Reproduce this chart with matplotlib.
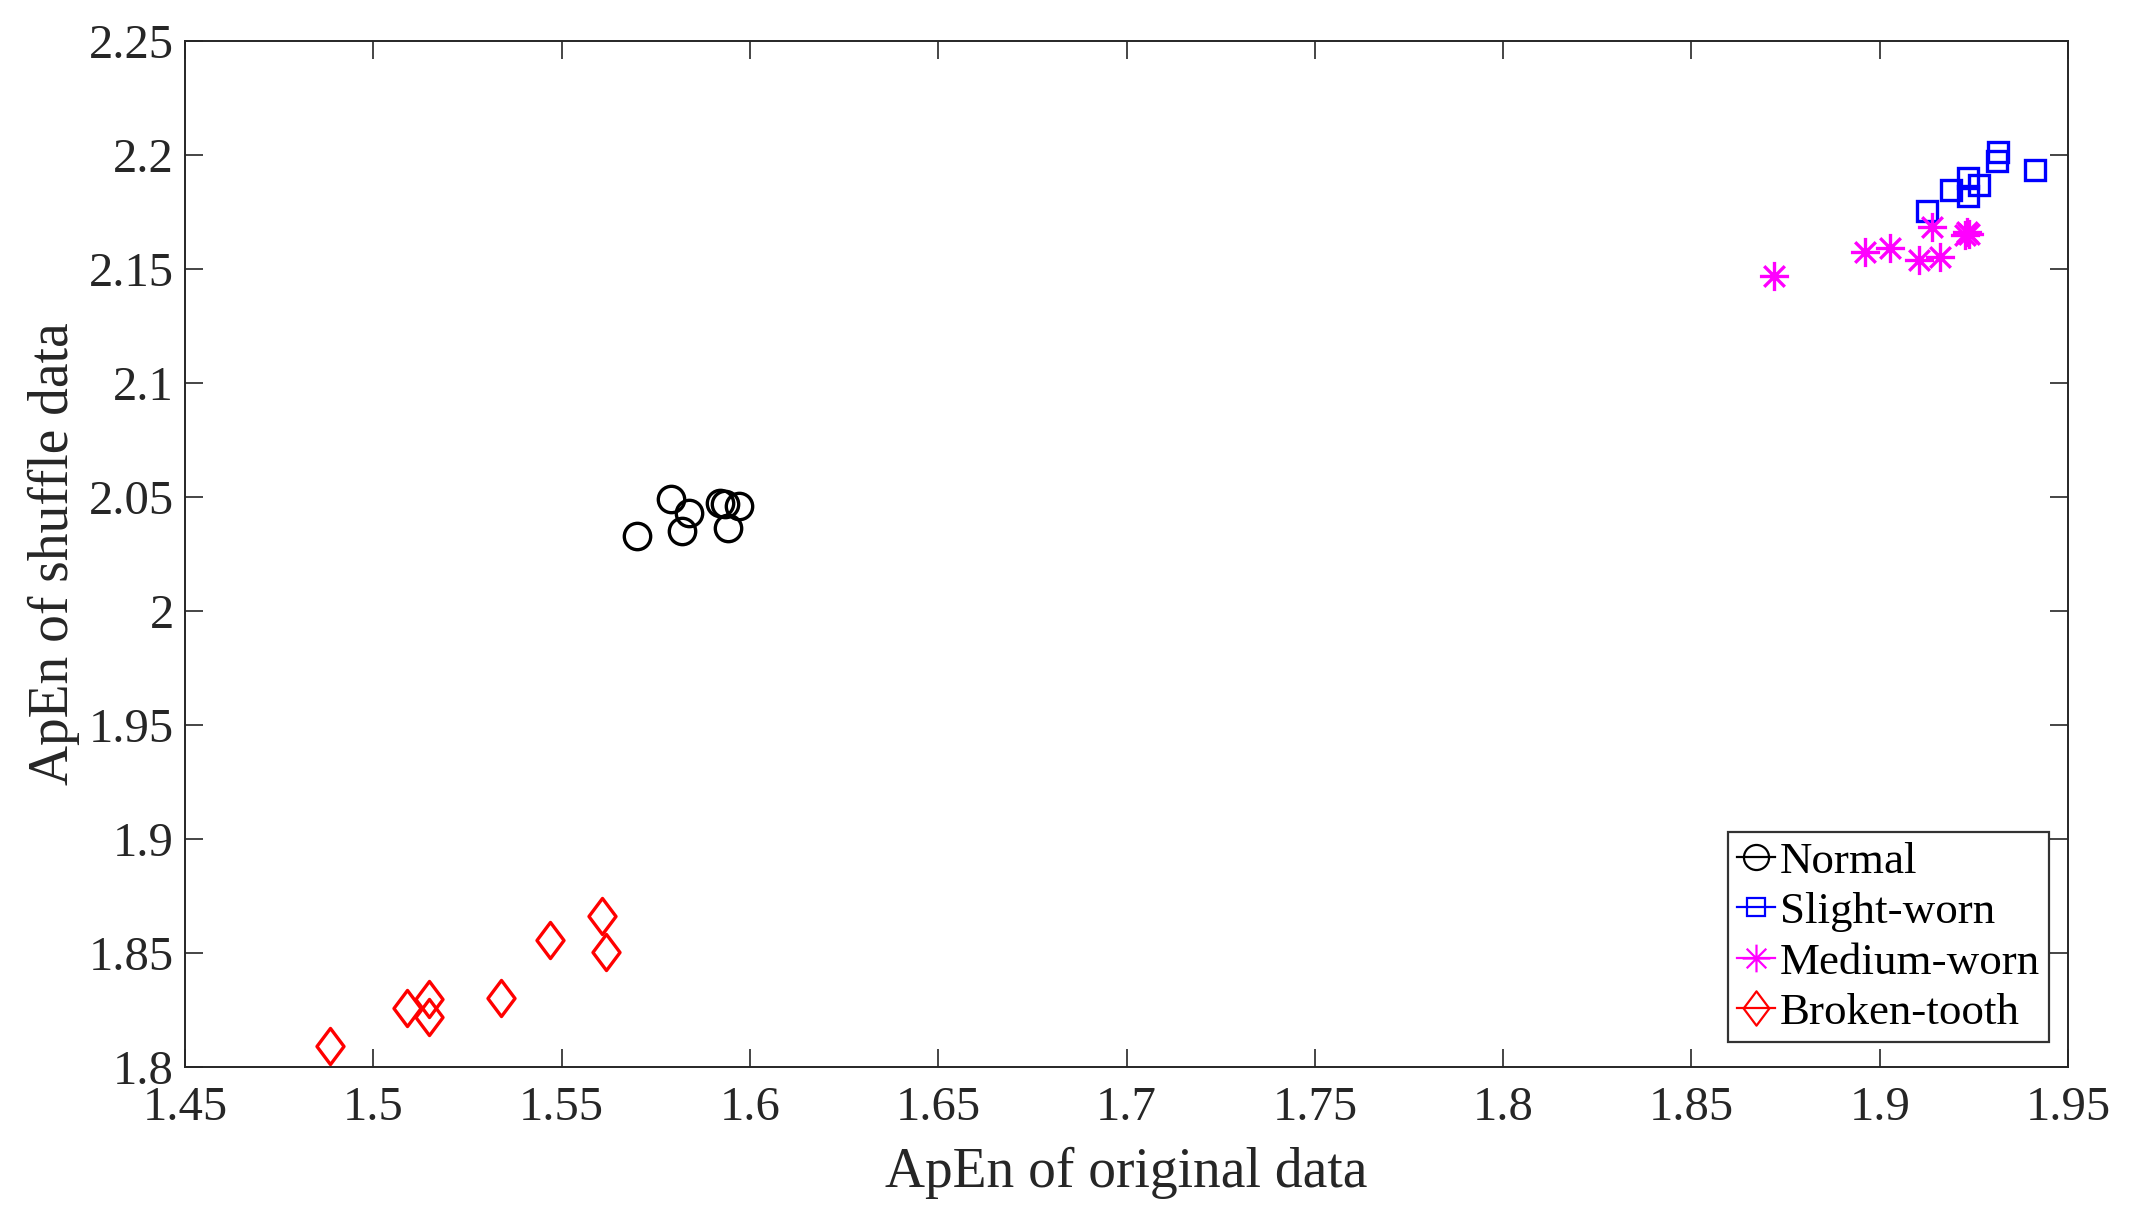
import matplotlib
matplotlib.use("Agg")
import matplotlib.pyplot as plt
import numpy as np
from matplotlib.path import Path
from matplotlib.lines import Line2D
from matplotlib.ticker import FuncFormatter

plt.rcParams['font.family'] = ['Liberation Serif', 'DejaVu Serif']

# values
normal_x = [1.5699, 1.5790, 1.5839, 1.5820, 1.5920, 1.5935, 1.5970, 1.5943]
normal_y = [2.0329, 2.0490, 2.0431, 2.0350, 2.0475, 2.0470, 2.0460, 2.0365]

slight_x = [1.9125, 1.9190, 1.9234, 1.9235, 1.9264, 1.9313, 1.9310, 1.9411]
slight_y = [2.1754, 2.1847, 2.1900, 2.1820, 2.1868, 2.2014, 2.1975, 2.1934]

medium_x = [1.8720, 1.8961, 1.9026, 1.9104, 1.9160, 1.9138, 1.9231, 1.9236, 1.9226]
medium_y = [2.1471, 2.1576, 2.1592, 2.1540, 2.1553, 2.1686, 2.1664, 2.1655, 2.1648]

broken_x = [1.4885, 1.5090, 1.5147, 1.5147, 1.5338, 1.5469, 1.5607, 1.5619]
broken_y = [1.8093, 1.8257, 1.8298, 1.8220, 1.8301, 1.8557, 1.8662, 1.8504]

labels = ["Normal", "Slight-worn", "Medium-worn", "Broken-tooth"]

# matlab-like markers
ang = np.deg2rad(np.arange(0, 360, 45))
star_verts, star_codes = [], []
for a in ang:
    star_verts += [(0, 0), (np.cos(a), np.sin(a))]
    star_codes += [Path.MOVETO, Path.LINETO]
star = Path(star_verts, star_codes)
diamond = Path([(0, 1), (0.75, 0), (0, -1), (-0.75, 0), (0, 1)],
               [Path.MOVETO, Path.LINETO, Path.LINETO, Path.LINETO, Path.CLOSEPOLY])

styles = [
    dict(color="black", marker="o", ms=9.5),
    dict(color="#0000ff", marker="s", ms=7.0),
    dict(color="#ff00ff", marker=star, ms=10.5),
    dict(color="#ff0000", marker=diamond, ms=13.0),
]
data = [(normal_x, normal_y), (slight_x, slight_y), (medium_x, medium_y), (broken_x, broken_y)]

fig = plt.figure(figsize=(10.68, 6.11), dpi=200)
ax = fig.add_axes([0.0866, 0.1268, 0.9682 - 0.0866, 0.9664 - 0.1268])

handles = []
for (xs, ys), st, lab in zip(data, styles, labels):
    ax.plot(xs, ys, linestyle="none", marker=st["marker"], ms=st["ms"],
            mfc="none", mec=st["color"], mew=1.2)
    handles.append(Line2D([], [], color=st["color"], lw=0.8, marker=st["marker"],
                          ms=st["ms"] * 0.95, mfc="none", mec=st["color"], mew=0.8))

ax.set_xlim(1.45, 1.95)
ax.set_ylim(1.8, 2.25)
ax.set_xticks(np.arange(1.45, 1.951, 0.05))
ax.set_yticks(np.arange(1.8, 2.251, 0.05))
fmt = FuncFormatter(lambda v, p: "%g" % round(v, 2))
ax.xaxis.set_major_formatter(fmt)
ax.yaxis.set_major_formatter(fmt)

gray = "#262626"
for s in ax.spines.values():
    s.set_color(gray)
    s.set_linewidth(0.7)
ax.tick_params(direction="in", length=6.5, width=0.6, color=gray, labelcolor=gray,
               labelsize=17.5, top=True, right=True)
ax.tick_params(axis="x", pad=7)
ax.tick_params(axis="y", pad=4)

ax.set_xlabel("ApEn of original data", fontsize=20, color=gray, labelpad=6)
ax.set_ylabel("ApEn of shuffle data", fontsize=20, color=gray, labelpad=3)

leg = fig.legend(handles=handles, labels=labels, loc="lower left",
                 bbox_to_anchor=(0.809, 0.1473), bbox_transform=fig.transFigure,
                 fontsize=16.2, frameon=True, fancybox=False, edgecolor="black",
                 handlelength=0.85, handletextpad=0.1, labelspacing=0.22,
                 borderpad=0.2, borderaxespad=0, numpoints=1)
leg.get_frame().set_linewidth(0.8)

fig.savefig("out.png", dpi=200)
